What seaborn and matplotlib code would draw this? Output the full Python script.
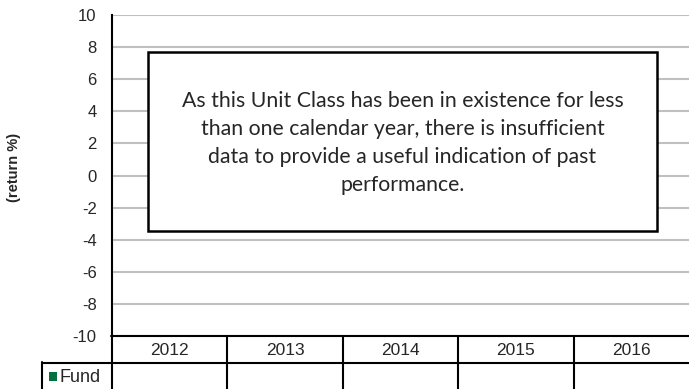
import numpy as np
import pandas as pd
import matplotlib.pyplot as plt
import matplotlib.transforms as mtransforms
import seaborn as sns
from matplotlib.patches import Rectangle

# Data: calendar years and fund returns (no data yet -> empty)
years = ["2012", "2013", "2014", "2015", "2016"]
fund_returns = [np.nan, np.nan, np.nan, np.nan, np.nan]
y_ticks = [-10, -8, -6, -4, -2, 0, 2, 4, 6, 8, 10]
series_name = "Fund"
note = ("As this Unit Class has been in existence for less\n"
        "than one calendar year, there is insufficient\n"
        "data to provide a useful indication of past\n"
        "performance.")

fund_color = "#00703c"

sns.set_style("white")
plt.rcParams['font.family'] = ['Liberation Sans', 'DejaVu Sans']

W, H = 689, 389
fig = plt.figure(figsize=(W / 100, H / 100), dpi=100)
ax_left, ax_right, ax_top, ax_bottom = 112, 689, 15, 336
ax = fig.add_axes([ax_left / W, 1 - ax_bottom / H,
                   (ax_right - ax_left) / W, (ax_bottom - ax_top) / H])

df = pd.DataFrame({"year": years, "return": fund_returns})
try:
    sns.barplot(data=df, x="year", y="return", color=fund_color, ax=ax)
except Exception:
    pass

n = len(years)
ax.set_xlim(-0.5, n - 0.5)
ax.set_ylim(-10, 10)
ax.set_yticks(y_ticks)
ax.set_yticklabels([str(t) for t in y_ticks], fontsize=12)
ax.set_xticks([])
ax.set_xlabel("")
ax.set_ylabel("")
ax.tick_params(axis="y", length=0, pad=11)
for t in y_ticks:
    ax.axhline(t, color="#c0c0c0", lw=1.5, zorder=0)
for s in ["top", "right", "bottom"]:
    ax.spines[s].set_visible(False)
ax.spines["left"].set_color("black")
ax.spines["left"].set_linewidth(1.5)

fig.text(14 / W, 1 - 167 / H, "(return %)", rotation=90, fontsize=10.5,
         fontweight="bold", ha="center", va="center")

# Note box
axw = ax_right - ax_left
axh = ax_bottom - ax_top
bx0, bx1, by0, by1 = 148, 657, 52, 231
ax.add_patch(Rectangle(((bx0 - ax_left) / axw, (ax_bottom - by1) / axh),
                       (bx1 - bx0) / axw, (by1 - by0) / axh,
                       transform=ax.transAxes, facecolor="white",
                       edgecolor="black", lw=1.8, zorder=5, clip_on=False))
ax.text(((bx0 + bx1) / 2 - ax_left) / axw, (ax_bottom - 143) / axh, note,
        transform=ax.transAxes, ha="center", va="center", fontsize=15.3,
        family=["Lato", "DejaVu Sans"], linespacing=1.48, zorder=6)

# Data table below the axis: x follows the category axis, y in figure pixels
trans = mtransforms.blended_transform_factory(ax.transData, fig.transFigure)
fy = lambda py: 1 - py / H
fx = lambda px: px / W
row1_top, row1_bot = 336, 363
line_kw = dict(color="black", lw=1.5)

fig.add_artist(plt.Line2D([fx(ax_left - 1), 1], [fy(row1_top)] * 2, **line_kw))
fig.add_artist(plt.Line2D([fx(42), 1], [fy(row1_bot)] * 2, **line_kw))
fig.add_artist(plt.Line2D([fx(ax_left)] * 2, [fy(row1_top), 0], **line_kw))
fig.add_artist(plt.Line2D([fx(42)] * 2, [fy(row1_bot - 1), 0], **line_kw))
for i in range(n - 1):
    fig.add_artist(plt.Line2D([i + 0.5] * 2, [fy(row1_top), 0],
                              transform=trans, **line_kw))
for i, yr in enumerate(years):
    fig.text(i, fy((row1_top + row1_bot) / 2 + 1), yr, transform=trans,
             ha="center", va="center", fontsize=12.5)

fig.patches.append(Rectangle((fx(49), fy(381)), 8 / W, 9 / H,
                             transform=fig.transFigure, facecolor=fund_color,
                             edgecolor="none"))
fig.text(fx(59), fy(377), series_name, fontsize=13, ha="left", va="center")

fig.savefig("out.png", dpi=100, facecolor="white")
